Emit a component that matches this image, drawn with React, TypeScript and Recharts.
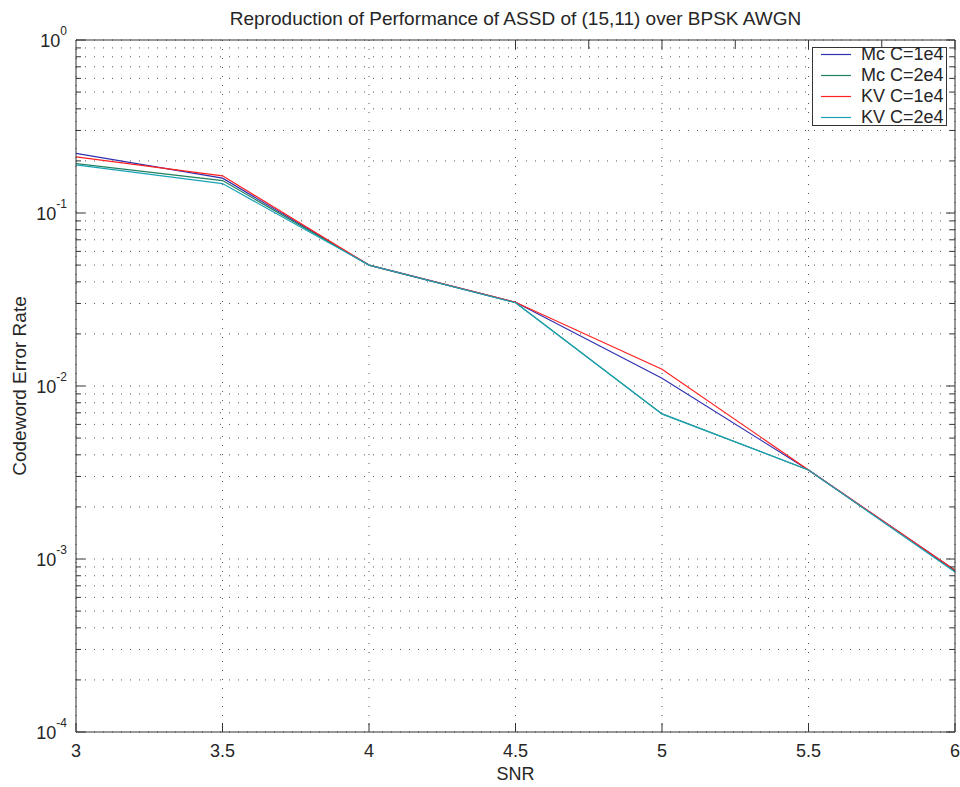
import { LineChart, Line, XAxis, YAxis, CartesianGrid, Legend } from "recharts";

// SNR points (x axis)
const snr = [3, 3.5, 4, 4.5, 5, 5.5, 6];

// codeword error rate per curve
const mcC1e4 = [0.221, 0.159, 0.05, 0.0305, 0.0111, 0.00327, 0.00086];
const mcC2e4 = [0.193, 0.154, 0.05, 0.0304, 0.0069, 0.00327, 0.00085];
const kvC1e4 = [0.211, 0.164, 0.05, 0.0305, 0.0125, 0.00327, 0.00086];
const kvC2e4 = [0.19, 0.148, 0.05, 0.0303, 0.0069, 0.00327, 0.00084];

const xTicks = [3, 3.5, 4, 4.5, 5, 5.5, 6];
const decades = [1e-4, 1e-3, 1e-2, 1e-1, 1];
const minorSteps = [2, 3, 4, 5, 6, 7, 8, 9];
const yTicks = [
  ...decades,
  ...decades.slice(0, 4).flatMap((d) => minorSteps.map((k) => k * d)),
].sort((a, b) => a - b);

const series = [
  { key: "mc1", name: "Mc C=1e4", color: "#3030b0", values: mcC1e4 },
  { key: "mc2", name: "Mc C=2e4", color: "#23805e", values: mcC2e4 },
  { key: "kv1", name: "KV C=1e4", color: "#ff2020", values: kvC1e4 },
  { key: "kv2", name: "KV C=2e4", color: "#1aa3b8", values: kvC2e4 },
];

const data = snr.map((s, i) => {
  const row: Record<string, number> = { snr: s };
  series.forEach((sr) => (row[sr.key] = sr.values[i]));
  return row;
});

const font = "'Liberation Sans', Arial, Helvetica, sans-serif";
const ink = "#262626";
const axisColor = "#333";

const isDecade = (v: number) => {
  const l = Math.log10(v);
  return Math.abs(l - Math.round(l)) < 1e-6;
};

function LeftTick(props: any) {
  const { x, y, payload } = props;
  const major = isDecade(payload.value);
  const exp = Math.round(Math.log10(payload.value));
  return (
    <g>
      <line x1={x} x2={x + (major ? 9 : 5)} y1={y} y2={y} stroke={axisColor} />
      {major && (
        <text x={x - 9} y={y + 7} textAnchor="end" fill={ink} fontFamily={font} fontSize={18}>
          <tspan>10</tspan>
          <tspan dy={-12} fontSize={12}>{exp}</tspan>
        </text>
      )}
    </g>
  );
}

function RightTick(props: any) {
  const { x, y, payload } = props;
  const major = isDecade(payload.value);
  return <line x1={x} x2={x - (major ? 9 : 5)} y1={y} y2={y} stroke={axisColor} />;
}

function BottomTick(props: any) {
  const { x, y, payload } = props;
  return (
    <g>
      <line x1={x} x2={x} y1={y} y2={y - 9} stroke={axisColor} />
      <text x={x} y={y + 25} textAnchor="middle" fill={ink} fontFamily={font} fontSize={18}>
        {payload.value}
      </text>
    </g>
  );
}

function TopTick(props: any) {
  const { x, y } = props;
  return <line x1={x} x2={x} y1={y} y2={y + 9} stroke={axisColor} />;
}

function LegendBox() {
  return (
    <div
      style={{
        boxSizing: "border-box",
        width: 135,
        height: 79,
        border: `1px solid ${axisColor}`,
        background: "#fff",
        fontFamily: font,
        fontSize: 18,
        color: ink,
      }}
    >
      <div style={{ marginTop: -4 }}>
        {series.map((s) => (
          <div key={s.key} style={{ display: "flex", alignItems: "center", height: 21, whiteSpace: "nowrap" }}>
            <svg width={48} height={21} style={{ flex: "none" }}>
              <line x1={8} x2={38} y1={10.5} y2={10.5} stroke={s.color} strokeWidth={1.2} />
            </svg>
            <span style={{ lineHeight: "21px" }}>{s.name}</span>
          </div>
        ))}
      </div>
    </div>
  );
}

export default function App() {
  return (
    <div style={{ position: "absolute", left: 0, top: 0, width: 960, height: 787, background: "#fff", fontFamily: font }}>
      <LineChart
        width={960}
        height={787}
        data={data}
        margin={{ top: 30, right: 0, bottom: 0, left: 6 }}
      >
        <CartesianGrid stroke="#555" strokeDasharray="1 8" />
        <XAxis
          dataKey="snr"
          type="number"
          domain={[3, 6]}
          ticks={xTicks}
          interval={0}
          allowDataOverflow
          height={55}
          tickSize={0}
          tickMargin={0}
          tickLine={false}
          axisLine={{ stroke: axisColor }}
          tick={<BottomTick />}
          label={{ value: "SNR", position: "insideBottom", offset: 7, fill: ink, fontSize: 18, fontFamily: font }}
        />
        <XAxis
          xAxisId="t"
          orientation="top"
          type="number"
          domain={[3, 6]}
          ticks={xTicks}
          interval={0}
          allowDataOverflow
          height={10}
          tickSize={0}
          tickMargin={0}
          tickLine={false}
          axisLine={{ stroke: axisColor }}
          tick={<TopTick />}
        />
        <YAxis
          type="number"
          scale="log"
          domain={[1e-4, 1]}
          ticks={yTicks}
          interval={0}
          allowDataOverflow
          width={70}
          tickSize={0}
          tickMargin={0}
          tickLine={false}
          axisLine={{ stroke: axisColor }}
          tick={<LeftTick />}
        />
        <YAxis
          yAxisId="r"
          orientation="right"
          type="number"
          scale="log"
          domain={[1e-4, 1]}
          ticks={yTicks}
          interval={0}
          allowDataOverflow
          width={5}
          tickSize={0}
          tickMargin={0}
          tickLine={false}
          axisLine={{ stroke: axisColor }}
          tick={<RightTick />}
        />
        {series.map((s) => (
          <Line
            key={s.key}
            dataKey={s.key}
            name={s.name}
            type="linear"
            stroke={s.color}
            strokeWidth={1.2}
            dot={false}
            activeDot={false}
            isAnimationActive={false}
          />
        ))}
        <Legend
          layout="horizontal"
          verticalAlign="middle"
          content={<LegendBox />}
          wrapperStyle={{ left: 812, top: 47, width: 135, height: 79 }}
        />
        <text x={515.5} y={25} textAnchor="middle" fill={ink} fontFamily={font} fontSize={19}>
          Reproduction of Performance of ASSD of (15,11) over BPSK AWGN
        </text>
        <text
          x={26}
          y={386}
          transform="rotate(-90 26 386)"
          textAnchor="middle"
          fill={ink}
          fontFamily={font}
          fontSize={19}
        >
          Codeword Error Rate
        </text>
      </LineChart>
    </div>
  );
}
